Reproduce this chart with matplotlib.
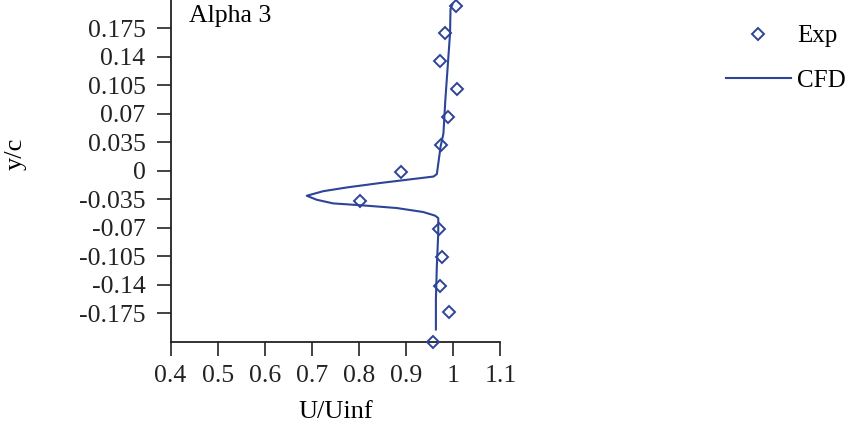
import matplotlib
matplotlib.use("Agg")
import matplotlib.pyplot as plt

# experimental points (U/Uinf, y/c)
exp_u = [1.006, 0.982, 0.972, 1.007, 0.989, 0.973, 0.888, 0.801, 0.970, 0.976, 0.972, 0.991, 0.957]
exp_y = [0.203, 0.169, 0.135, 0.101, 0.0665, 0.032, -0.002, -0.0376, -0.072, -0.106, -0.141, -0.174, -0.210]

# CFD profile
cfd_u = [0.998, 0.994, 0.993, 0.988, 0.983, 0.979, 0.973, 0.965, 0.958, 0.915, 0.844, 0.774, 0.724,
         0.689, 0.710, 0.745, 0.809, 0.880, 0.936, 0.961, 0.968, 0.968, 0.965, 0.963, 0.963]
cfd_y = [0.2046, 0.199, 0.169, 0.128, 0.087, 0.046, 0.030, -0.004, -0.007, -0.010, -0.015, -0.0204, -0.025,
         -0.0306, -0.0355, -0.040, -0.0425, -0.0457, -0.0506, -0.055, -0.058, -0.076, -0.117, -0.158, -0.195]

x_ticks = [0.4, 0.5, 0.6, 0.7, 0.8, 0.9, 1.0, 1.1]
x_labels = ['0.4', '0.5', '0.6', '0.7', '0.8', '0.9', '1', '1.1']
y_ticks = [-0.175, -0.14, -0.105, -0.07, -0.035, 0, 0.035, 0.07, 0.105, 0.14, 0.175]
y_labels = ['-0.175', '-0.14', '-0.105', '-0.07', '-0.035', '0', '0.035', '0.07', '0.105', '0.14', '0.175']

blue = '#2c4596'
plt.rcParams['font.family'] = ['Liberation Serif', 'DejaVu Serif']

fig = plt.figure(figsize=(8.5, 4.25), dpi=100)
ax = fig.add_axes([0.2006, 0.196, 0.3882, 0.804])

ax.plot(exp_u, exp_y, linestyle='none', marker='D', markersize=6.3, markerfacecolor='none',
        markeredgecolor=blue, markeredgewidth=1.4, label='Exp', clip_on=False, zorder=3)
ax.plot(cfd_u, cfd_y, color=blue, linewidth=1.5, label='CFD')

ax.set_xlim(0.4, 1.1)
ax.set_ylim(-0.21, 0.21)
ax.set_xticks(x_ticks)
ax.set_xticklabels(x_labels)
ax.set_yticks(y_ticks)
ax.set_yticklabels(y_labels)
ax.tick_params(direction='out', length=10, width=1.2, labelsize=18.5, colors='#222222')
ax.tick_params(axis='x', pad=7)
ax.tick_params(axis='y', pad=8)

for side in ['top', 'right']:
    ax.spines[side].set_visible(False)
for side in ['left', 'bottom']:
    ax.spines[side].set_linewidth(1.3)
    ax.spines[side].set_color('#222222')

ax.set_xlabel('U/Uinf', fontsize=19, labelpad=10)
ax.set_ylabel('y/c', fontsize=19)
ax.yaxis.set_label_coords(-0.435, 0.55)

ax.text(0.055, 0.985, 'Alpha 3', transform=ax.transAxes, fontsize=18.5, va='top', ha='left')

fig.legend(loc='upper left', bbox_to_anchor=(0.842, 0.965), frameon=False, fontsize=18,
           handlelength=2.6, handletextpad=0.25, labelspacing=0.87, borderaxespad=0)

fig.savefig('out.png', dpi=100)
